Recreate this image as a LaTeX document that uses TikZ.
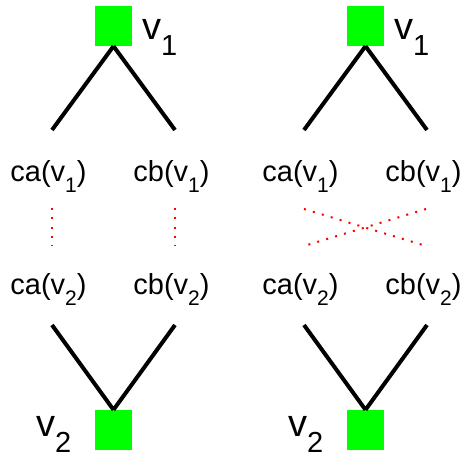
\documentclass[tikz,border=0pt]{standalone}
\usepackage{fontspec}
\setmainfont{Liberation Sans}
\usetikzlibrary{positioning}

\newcommand{\csub}[1]{\raisebox{-11pt}{\fontsize{21}{21}\selectfont #1}}
\newcommand{\vsub}[1]{\raisebox{-16pt}{\fontsize{29}{29}\selectfont #1}}

\begin{document}
\begin{tikzpicture}[
    x=1pt, y=-1pt,
    vertex/.style={rectangle, fill=green, minimum width=37pt, minimum height=40pt, inner sep=0pt},
    lbl/.style={font=\fontsize{29}{34}\selectfont, inner sep=0pt, anchor=base},
    vname/.style={font=\fontsize{38}{44}\selectfont, inner sep=0pt, anchor=base west},
    edge/.style={line width=4pt},
    link/.style={red, line width=2pt, dash pattern=on 2pt off 7.3pt}
]
\useasboundingbox (0,0) rectangle (461,457);

% left picture
\node[vertex] (Lu1) at (113.5,26) {};
\node[vertex] (Lu2) at (113.5,430) {};
\node[vname] (Ln1) at (142,40) {v\vsub{1}};
\node[vname] (Ln2) at (36,436) {v\vsub{2}};
\node[lbl] (Lca1) at (48.5,182) {ca(v\csub{1})};
\node[lbl] (Lcb1) at (171.5,182) {cb(v\csub{1})};
\node[lbl] (Lca2) at (48.5,295) {ca(v\csub{2})};
\node[lbl] (Lcb2) at (171.5,295) {cb(v\csub{2})};
\coordinate (La1) at (52,130);
\coordinate (Lb1) at (175,130);
\coordinate (La2) at (52,325);
\coordinate (Lb2) at (175,325);
\coordinate (Lpa1) at (52,208);
\coordinate (Lpb1) at (175,208);
\coordinate (Lpa2) at (52,246);
\coordinate (Lpb2) at (175,246);

\draw[edge] (Lu1.south) -- (La1);
\draw[edge] (Lu1.south) -- (Lb1);
\draw[edge] (La2) -- (Lu2.north);
\draw[edge] (Lb2) -- (Lu2.north);
\draw[link] (Lpa1) -- (Lpa2);
\draw[link] (Lpb1) -- (Lpb2);

% right picture
\node[vertex] (Ru1) at (365.5,26) {};
\node[vertex] (Ru2) at (365.5,430) {};
\node[vname] (Rn1) at (394,40) {v\vsub{1}};
\node[vname] (Rn2) at (288,436) {v\vsub{2}};
\node[lbl] (Rca1) at (300.5,182) {ca(v\csub{1})};
\node[lbl] (Rcb1) at (423.5,182) {cb(v\csub{1})};
\node[lbl] (Rca2) at (300.5,295) {ca(v\csub{2})};
\node[lbl] (Rcb2) at (423.5,295) {cb(v\csub{2})};
\coordinate (Ra1) at (304,130);
\coordinate (Rb1) at (427,130);
\coordinate (Ra2) at (304,325);
\coordinate (Rb2) at (427,325);
\coordinate (Rpa1) at (304,209);
\coordinate (Rpb1) at (426,209);
\coordinate (Rpa2) at (304,246);
\coordinate (Rpb2) at (426,246);

\draw[edge] (Ru1.south) -- (Ra1);
\draw[edge] (Ru1.south) -- (Rb1);
\draw[edge] (Ra2) -- (Ru2.north);
\draw[edge] (Rb2) -- (Ru2.north);
\draw[link] (Rpa1) -- (Rpb2);
\draw[link] (Rpb1) -- (Rpa2);
\end{tikzpicture}
\end{document}
